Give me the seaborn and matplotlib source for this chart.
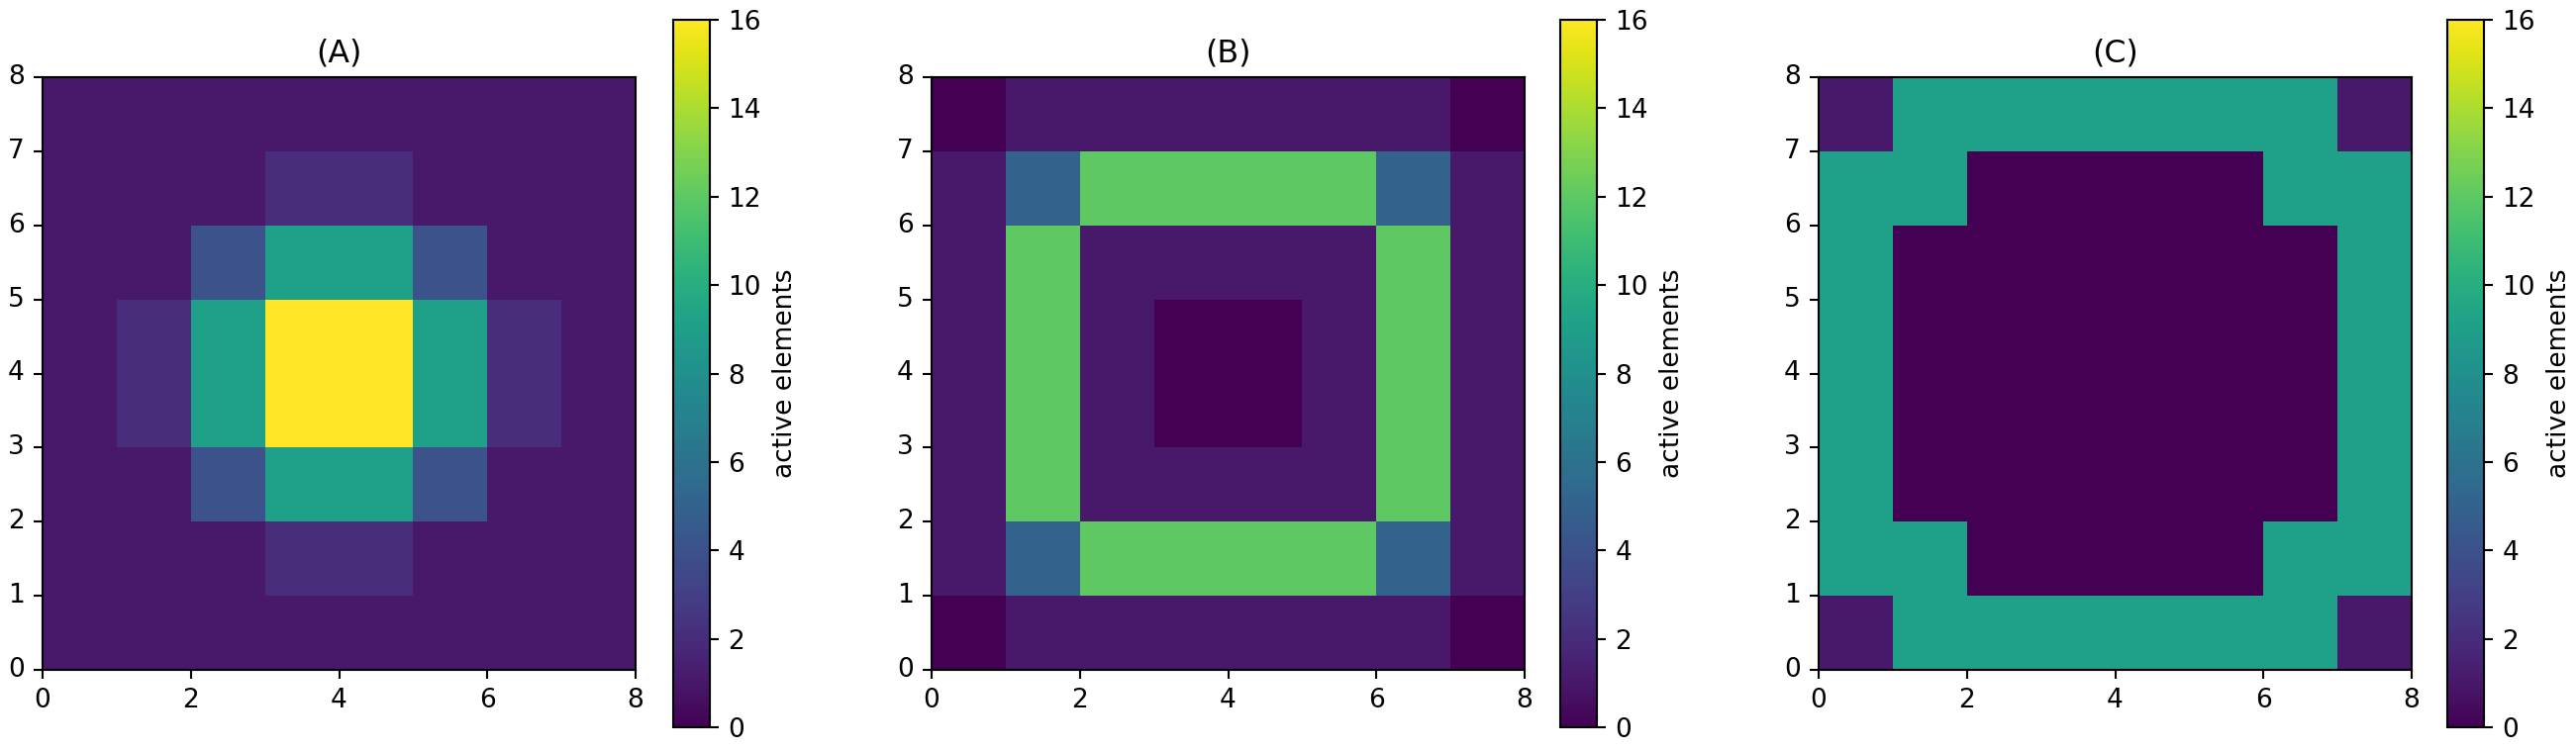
import numpy as np
import matplotlib
matplotlib.use("Agg")
import matplotlib.pyplot as plt
import seaborn as sns

titles = ["(A)", "(B)", "(C)"]
cbar_label = "active elements"
x_ticks = [0, 2, 4, 6, 8]
y_ticks = [0, 1, 2, 3, 4, 5, 6, 7, 8]
cbar_ticks = [0, 2, 4, 6, 8, 10, 12, 14, 16]

# rows listed from bottom (y=0) to top (y=7)
grid_a = [
    [1, 1, 1, 1, 1, 1, 1, 1],
    [1, 1, 1, 2, 2, 1, 1, 1],
    [1, 1, 4, 9, 9, 4, 1, 1],
    [1, 2, 9, 16, 16, 9, 2, 1],
    [1, 2, 9, 16, 16, 9, 2, 1],
    [1, 1, 4, 9, 9, 4, 1, 1],
    [1, 1, 1, 2, 2, 1, 1, 1],
    [1, 1, 1, 1, 1, 1, 1, 1],
]
grid_b = [
    [0, 1, 1, 1, 1, 1, 1, 0],
    [1, 5, 12, 12, 12, 12, 5, 1],
    [1, 12, 1, 1, 1, 1, 12, 1],
    [1, 12, 1, 0, 0, 1, 12, 1],
    [1, 12, 1, 0, 0, 1, 12, 1],
    [1, 12, 1, 1, 1, 1, 12, 1],
    [1, 5, 12, 12, 12, 12, 5, 1],
    [0, 1, 1, 1, 1, 1, 1, 0],
]
grid_c = [
    [1, 9, 9, 9, 9, 9, 9, 1],
    [9, 9, 0, 0, 0, 0, 9, 9],
    [9, 0, 0, 0, 0, 0, 0, 9],
    [9, 0, 0, 0, 0, 0, 0, 9],
    [9, 0, 0, 0, 0, 0, 0, 9],
    [9, 0, 0, 0, 0, 0, 0, 9],
    [9, 9, 0, 0, 0, 0, 9, 9],
    [1, 9, 9, 9, 9, 9, 9, 1],
]
grids = [grid_a, grid_b, grid_c]

W, H = 2602, 759
dpi = 190
fig = plt.figure(figsize=(W / dpi, H / dpi), dpi=dpi)

ax_lefts = [43, 941, 1837]
cb_lefts = [680, 1576, 2472]
ax_w = 599
ax_top = 78
cb_w = 37
cb_top, cb_bot = 20, 735

for i in range(3):
    ax = fig.add_axes([ax_lefts[i] / W, 1 - (ax_top + ax_w) / H, ax_w / W, ax_w / H])
    cax = fig.add_axes([cb_lefts[i] / W, 1 - cb_bot / H, cb_w / W, (cb_bot - cb_top) / H])
    sns.heatmap(np.array(grids[i]), ax=ax, cbar_ax=cax, cmap="viridis",
                vmin=0, vmax=16, square=False,
                cbar_kws={"label": cbar_label, "ticks": cbar_ticks})
    ax.set_xlim(0, 8)
    ax.set_ylim(0, 8)
    ax.set_xticks(x_ticks)
    ax.set_xticklabels([str(t) for t in x_ticks], rotation=0)
    ax.set_yticks(y_ticks)
    ax.set_yticklabels([str(t) for t in y_ticks], rotation=0)
    ax.tick_params(length=3.5, width=0.8, color="black", labelsize=10)
    for s in ax.spines.values():
        s.set_visible(True)
        s.set_linewidth(0.8)
        s.set_color("black")
    ax.set_title(titles[i], fontsize=12)
    cb = ax.collections[0].colorbar
    cb.outline.set_linewidth(0.8)
    cb.outline.set_edgecolor("black")
    cax.tick_params(length=3.5, width=0.8, labelsize=10)
    cax.yaxis.label.set_size(10)

fig.savefig("out.png", dpi=dpi)
